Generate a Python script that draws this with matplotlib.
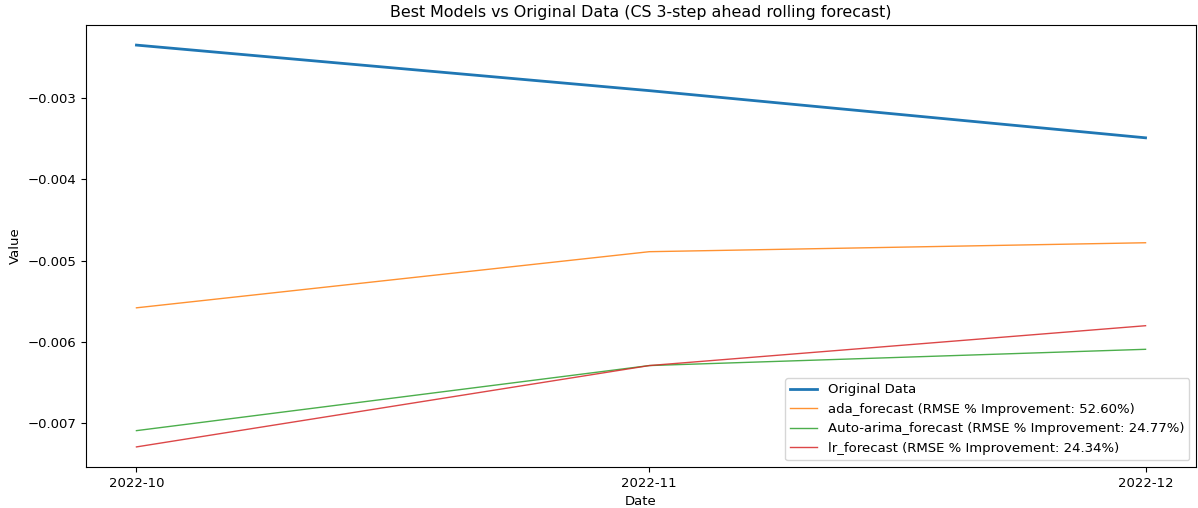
import matplotlib
matplotlib.use("Agg")
import matplotlib.pyplot as plt
import matplotlib.dates as mdates
import pandas as pd

dates = pd.to_datetime(["2022-10-01", "2022-11-01", "2022-12-01"])
original = [-0.00235, -0.00291, -0.00349]
ada_forecast = [-0.00558, -0.00489, -0.00478]
arima_forecast = [-0.00709, -0.00629, -0.00609]
lr_forecast = [-0.00729, -0.00629, -0.00580]

plt.rcParams["font.size"] = 9.55

fig, ax = plt.subplots(figsize=(11.98, 5.08), dpi=100)
fig.subplots_adjust(left=86 / 1198, right=1196 / 1198, top=1 - 25 / 508, bottom=1 - 467 / 508)

ax.plot(dates, original, label="Original Data", color="#1f77b4", linewidth=2)
ax.plot(dates, ada_forecast, label="ada_forecast (RMSE % Improvement: 52.60%)",
        color="#ff7f0e", linewidth=1, alpha=0.85)
ax.plot(dates, arima_forecast, label="Auto-arima_forecast (RMSE % Improvement: 24.77%)",
        color="#2ca02c", linewidth=1, alpha=0.85)
ax.plot(dates, lr_forecast, label="lr_forecast (RMSE % Improvement: 24.34%)",
        color="#d62728", linewidth=1, alpha=0.85)

ax.xaxis.set_major_locator(mdates.MonthLocator())
ax.xaxis.set_major_formatter(mdates.DateFormatter("%Y-%m"))

ax.set_title("Best Models vs Original Data (CS 3-step ahead rolling forecast)")
ax.set_xlabel("Date")
ax.set_ylabel("Value")
ax.legend(loc="lower right")

fig.savefig("out.png", dpi=100)
